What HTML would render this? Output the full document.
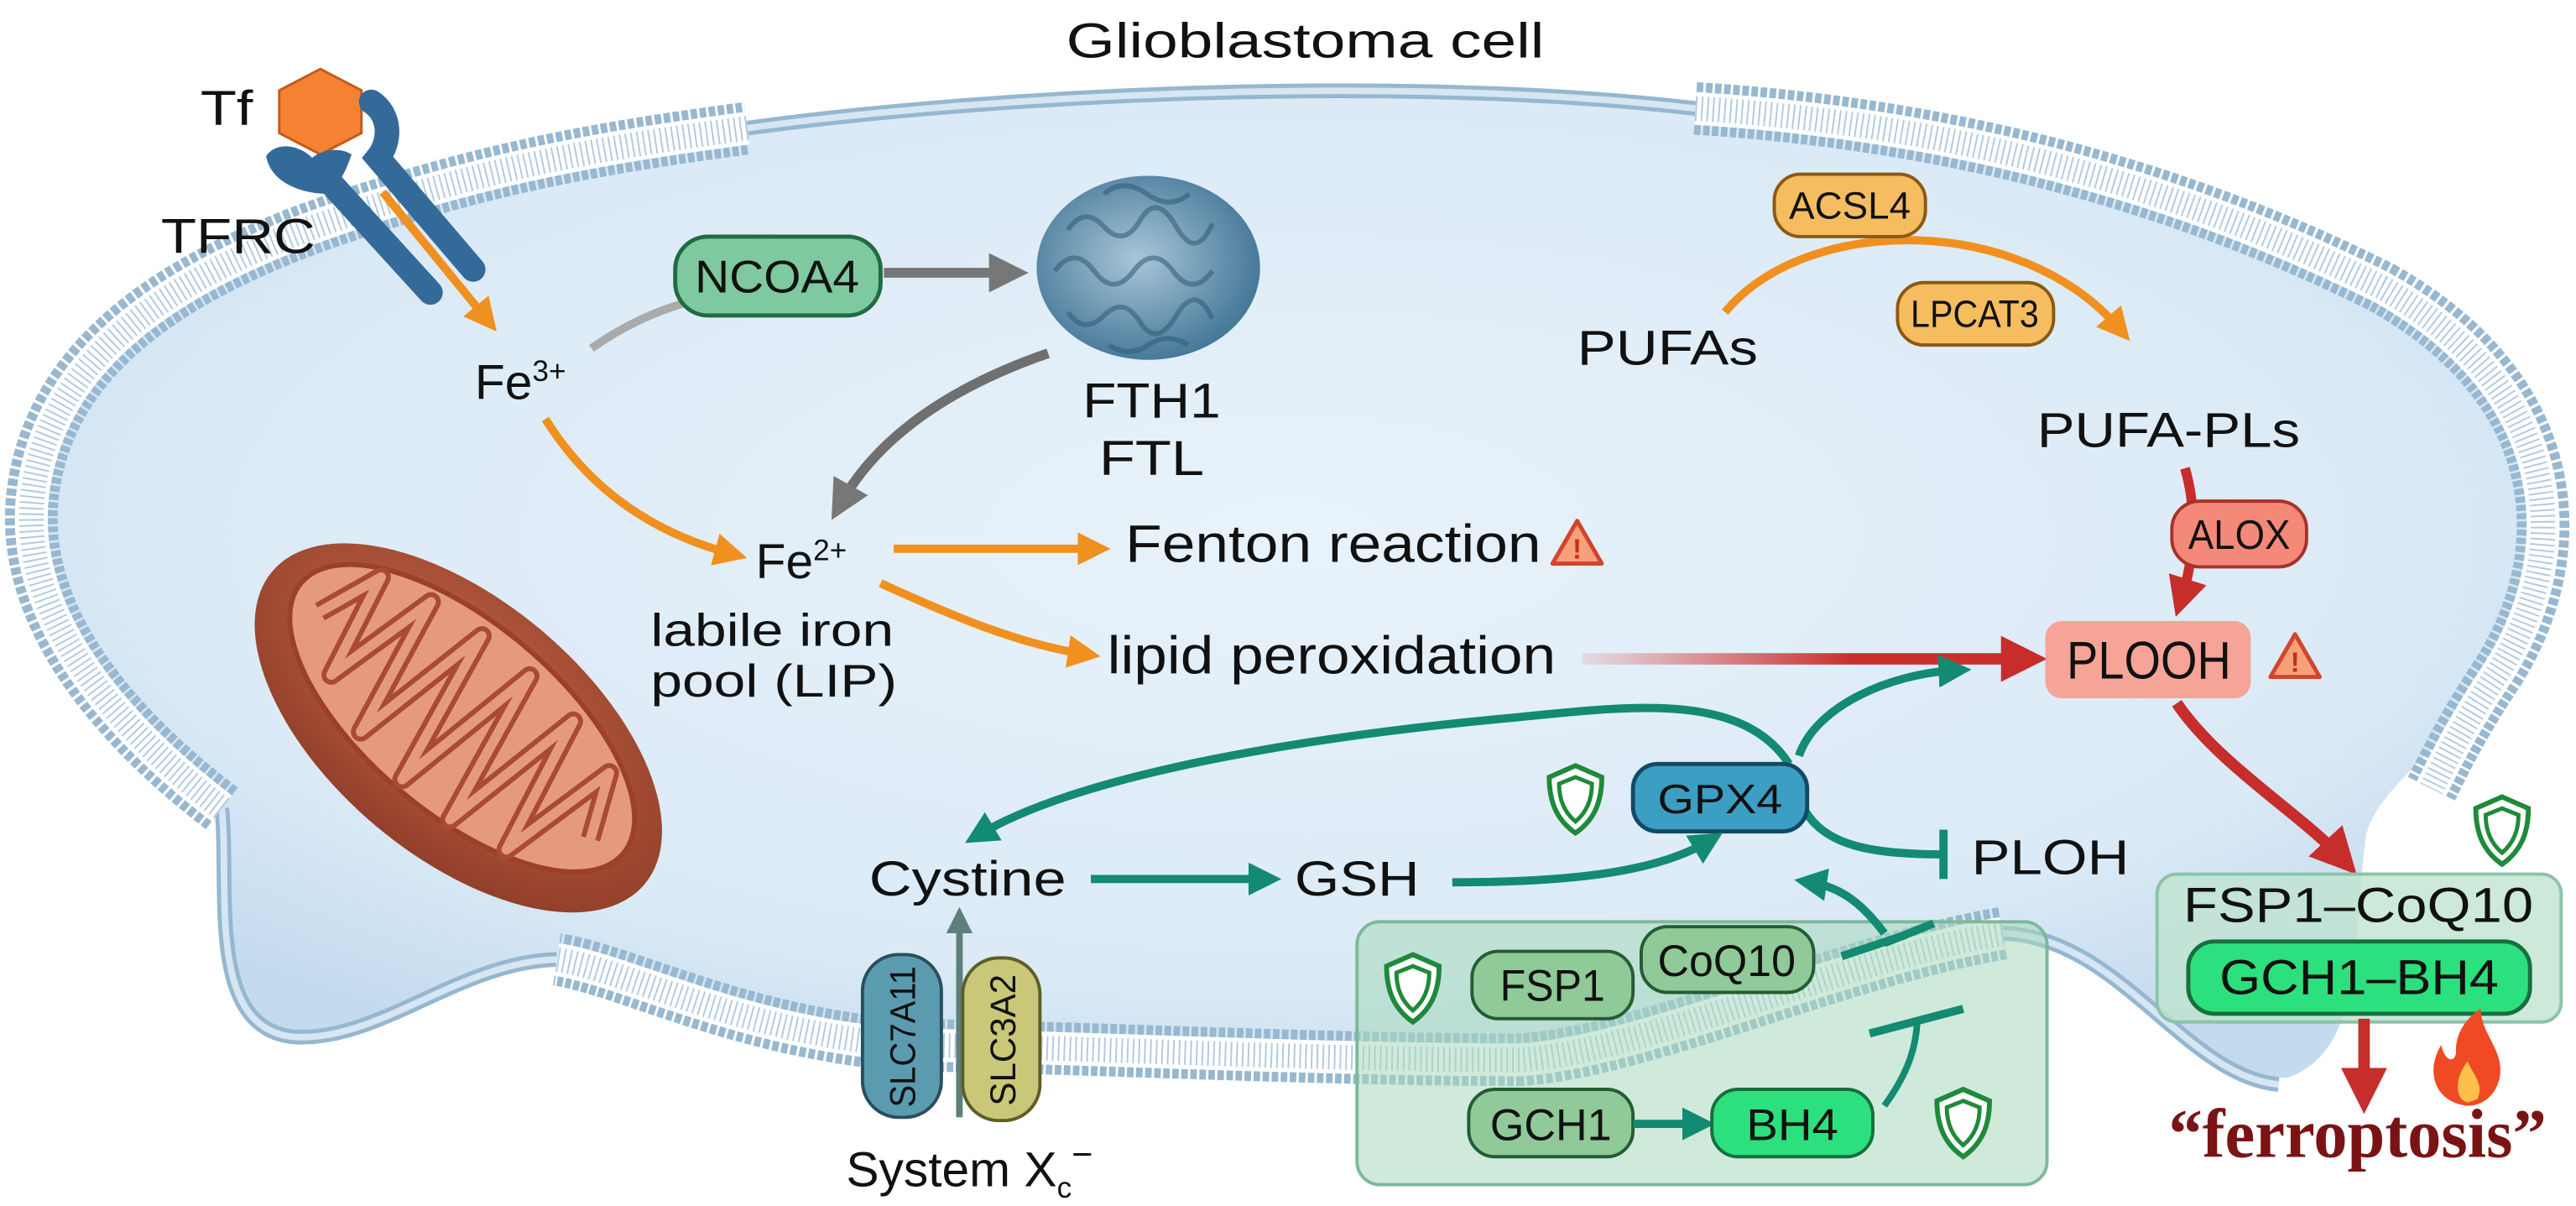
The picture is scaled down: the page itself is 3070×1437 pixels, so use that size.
<!DOCTYPE html>
<html><head><meta charset="utf-8"><style>
html,body{margin:0;padding:0;background:#fff;}
svg{display:block;}
text{font-family:"Liberation Sans",sans-serif;fill:#111;}
</style></head><body>
<svg width="3070" height="1437" viewBox="0 0 1568 734" preserveAspectRatio="none">
<defs>
<radialGradient id="cell" cx="50%" cy="45%" r="60%">
<stop offset="0" stop-color="#e8f2fa"/><stop offset="0.75" stop-color="#dbeaf6"/><stop offset="1" stop-color="#c4dbee"/>
</radialGradient>
<radialGradient id="mito" cx="45%" cy="40%" r="60%">
<stop offset="0" stop-color="#c96a4c"/><stop offset="1" stop-color="#93402a"/>
</radialGradient>
<radialGradient id="fer" cx="45%" cy="45%" r="60%">
<stop offset="0" stop-color="#a9c6d8"/><stop offset="1" stop-color="#3f7394"/>
</radialGradient>
<linearGradient id="redg" gradientUnits="userSpaceOnUse" x1="963" y1="0" x2="1235" y2="0"><stop offset="0" stop-color="#d23a35" stop-opacity="0.1"/><stop offset="0.6" stop-color="#c8302e"/></linearGradient>
<marker id="ao" viewBox="0 0 10 10" refX="5" refY="5" markerWidth="4" markerHeight="4" orient="auto"><path d="M0,0 L10,5 L0,10 z" fill="#f0901e"/></marker>
<marker id="ag" viewBox="0 0 10 10" refX="5" refY="5" markerWidth="4" markerHeight="4" orient="auto"><path d="M0,0 L10,5 L0,10 z" fill="#777"/></marker>
<marker id="ar" viewBox="0 0 10 10" refX="5" refY="5" markerWidth="4" markerHeight="4" orient="auto"><path d="M0,0 L10,5 L0,10 z" fill="#c62d2b"/></marker>
<marker id="at" viewBox="0 0 10 10" refX="5" refY="5" markerWidth="4" markerHeight="4" orient="auto"><path d="M0,0 L10,5 L0,10 z" fill="#138a72"/></marker>
<marker id="as" viewBox="0 0 10 10" refX="5" refY="5" markerWidth="4" markerHeight="4" orient="auto"><path d="M0,0 L10,5 L0,10 z" fill="#5e7f7a"/></marker>
<g id="shield"><path d="M0,-20 L16,-13 C16,4 10,14 0,21 C-10,14 -16,4 -16,-13 Z" fill="#fff" stroke="#1f8a3a" stroke-width="3"/><path d="M0,-13 L10,-9 C10,2 6,9 0,14 C-6,9 -10,2 -10,-9 Z" fill="none" stroke="#1f8a3a" stroke-width="2.5"/></g>
<g id="warn"><path d="M0,-14 L15,12 L-15,12 Z" fill="#f7a07a" stroke="#d2452c" stroke-width="2.5" stroke-linejoin="round"/><text x="0" y="9" text-anchor="middle" font-size="17" font-weight="bold" style="fill:#c1301f">!</text></g>
<path id="bA" d="M135,492 C80,450 10,380 20,300 C30,220 100,170 200,135 C300,100 380,88 455,78"/>
<path id="bB" d="M1032,66 C1180,75 1320,110 1450,175 C1565,240 1565,340 1520,410 C1500,440 1490,460 1480,480"/>
<path id="bC" d="M1219,568 C1120,585 1000,640 926,645 C800,645 650,637 550,636 C450,628 380,590 339,584"/>
<path id="d1" d="M455,78 C600,58 850,45 1032,66"/>
<path id="d2" d="M1387,660 C1330,655 1290,570 1219,568"/>
<path id="d3" d="M339,584 C280,585 230,635 178,631 C125,625 140,540 135,492"/>
</defs>

<!-- cell -->
<path d="M135,492 C80,450 10,380 20,300 C30,220 100,170 200,135 C300,100 380,88 455,78 C600,58 850,45 1032,66 C1180,75 1320,110 1450,175 C1565,240 1565,340 1520,410 C1490,455 1445,480 1440,510 C1432,570 1440,640 1392,656 C1330,655 1290,570 1219,568 C1120,585 1000,640 926,645 C800,645 650,637 550,636 C450,628 380,590 339,584 C280,585 230,635 178,631 C125,625 140,540 135,492 Z" fill="url(#cell)"/>
<g fill="none">
<g stroke="#95b7cf" stroke-width="9"><use href="#d1"/><use href="#d2"/><use href="#d3"/></g>
<g stroke="#d6e6f2" stroke-width="4"><use href="#d1"/><use href="#d2"/><use href="#d3"/></g>
<g stroke="#97b8d0" stroke-width="32" stroke-dasharray="4 1.5"><use href="#bA"/><use href="#bB"/><use href="#bC"/></g>
<g stroke="#fff" stroke-width="20"><use href="#bA"/><use href="#bB"/><use href="#bC"/></g>
<g stroke="#b2cade" stroke-width="15" stroke-dasharray="1 2.5"><use href="#bA"/><use href="#bB"/><use href="#bC"/></g>
</g>

<text x="649" y="35" font-size="30" textLength="291" lengthAdjust="spacingAndGlyphs">Glioblastoma cell</text>

<!-- Tf / TFRC -->
<polygon points="195,42 220,55 220,81 195,94 170,81 170,55" fill="#f58232" stroke="#c25a1a" stroke-width="1.5"/>
<text x="122" y="76" font-size="30" textLength="32" lengthAdjust="spacingAndGlyphs">Tf</text>
<text x="98" y="154" font-size="30" textLength="94" lengthAdjust="spacingAndGlyphs">TFRC</text>
<g fill="none" stroke="#336a9a" stroke-linecap="round">
<path d="M200,110 L262,178" stroke-width="15"/>
<path d="M226,62 C238,70 238,86 230,96 L288,164" stroke-width="15"/>
</g>
<path d="M162,95 C168,86 182,88 190,96 C198,90 208,90 214,94 C210,106 206,112 200,118 C185,118 165,112 162,95 Z" fill="#336a9a"/>
<line x1="233" y1="117" x2="296" y2="194" stroke="#f0901e" stroke-width="5" marker-end="url(#ao)"/>

<text x="289" y="243" font-size="30">Fe<tspan font-size="18" dy="-11">3+</tspan></text>

<!-- NCOA4 -->
<path d="M360,212 C380,198 398,190 415,185" fill="none" stroke="#aaa" stroke-width="5"/>
<rect x="411" y="144" width="125" height="48" rx="20" fill="#7fc9a0" stroke="#1f6b43" stroke-width="2.5"/>
<text x="473" y="178" text-anchor="middle" font-size="28" textLength="100" lengthAdjust="spacingAndGlyphs">NCOA4</text>
<line x1="538" y1="166" x2="614" y2="166" stroke="#777" stroke-width="6" marker-end="url(#ag)"/>

<!-- ferritin -->
<ellipse cx="699" cy="163" rx="68" ry="56" fill="url(#fer)"/>
<g fill="none" stroke="#2f5a76" stroke-width="3" opacity="0.55">
<path d="M650,140 q10,-15 22,-2 t22,-4 t22,4 t22,-2"/><path d="M642,165 q12,-16 24,0 t24,0 t24,0 t24,0"/><path d="M650,190 q10,14 22,2 t22,4 t22,-4 t22,2"/><path d="M672,118 q12,-10 26,0 t26,0"/><path d="M675,210 q12,8 24,0 t24,0"/>
</g>
<text x="659" y="254" font-size="30" textLength="84" lengthAdjust="spacingAndGlyphs">FTH1</text>
<text x="669" y="289" font-size="30" textLength="64" lengthAdjust="spacingAndGlyphs">FTL</text>
<path d="M638,215 C580,235 535,265 512,306" fill="none" stroke="#6f6f6f" stroke-width="6" marker-end="url(#ag)"/>

<path d="M332,255 C360,300 400,325 445,337" fill="none" stroke="#f0901e" stroke-width="5" marker-end="url(#ao)"/>
<text x="460" y="352" font-size="30">Fe<tspan font-size="18" dy="-11">2+</tspan></text>
<text x="396" y="393" font-size="28" textLength="148" lengthAdjust="spacingAndGlyphs">labile iron</text>
<text x="396" y="424" font-size="28" textLength="150" lengthAdjust="spacingAndGlyphs">pool (LIP)</text>
<line x1="544" y1="334" x2="666" y2="334" stroke="#f0901e" stroke-width="5" marker-end="url(#ao)"/>
<text x="685" y="342" font-size="32" textLength="253" lengthAdjust="spacingAndGlyphs">Fenton reaction</text>
<use href="#warn" x="960" y="331"/>
<path d="M536,355 C580,375 620,392 660,398" fill="none" stroke="#f0901e" stroke-width="5" marker-end="url(#ao)"/>
<text x="674" y="410" font-size="32" textLength="273" lengthAdjust="spacingAndGlyphs">lipid peroxidation</text>
<line x1="963" y1="401" x2="1232" y2="401" stroke="url(#redg)" stroke-width="7" marker-end="url(#ar)"/>

<!-- mitochondrion -->
<g transform="translate(279,443) rotate(40)">
<ellipse cx="0" cy="0" rx="148" ry="78" fill="url(#mito)"/>
<ellipse cx="-2" cy="-6" rx="128" ry="58" fill="#e59a7f" stroke="#9c4029" stroke-width="3"/>
<path d="M-110,0 L-95,-40 L-80,25 L-62,-48 L-44,40 L-25,-52 L-6,46 L13,-52 L32,46 L51,-48 L70,38 L88,-38 L105,0" fill="none" stroke="#a94a32" stroke-width="12" stroke-linejoin="round"/>
<path d="M-110,0 L-95,-40 L-80,25 L-62,-48 L-44,40 L-25,-52 L-6,46 L13,-52 L32,46 L51,-48 L70,38 L88,-38 L105,0" fill="none" stroke="#e59a7f" stroke-width="6" stroke-linejoin="round"/>
</g>

<!-- PUFA -->
<text x="960" y="222" font-size="30" textLength="110" lengthAdjust="spacingAndGlyphs">PUFAs</text>
<path d="M1050,190 C1100,130 1230,130 1290,200" fill="none" stroke="#f0901e" stroke-width="5" marker-end="url(#ao)"/>
<rect x="1080" y="106" width="92" height="38" rx="16" fill="#f6bd60" stroke="#8a5a14" stroke-width="2"/>
<text x="1126" y="133" text-anchor="middle" font-size="23" textLength="74" lengthAdjust="spacingAndGlyphs">ACSL4</text>
<rect x="1155" y="172" width="95" height="38" rx="16" fill="#f6bd60" stroke="#8a5a14" stroke-width="2"/>
<text x="1202" y="199" text-anchor="middle" font-size="23" textLength="78" lengthAdjust="spacingAndGlyphs">LPCAT3</text>
<text x="1240" y="272" font-size="30" textLength="160" lengthAdjust="spacingAndGlyphs">PUFA-PLs</text>
<path d="M1330,285 C1338,312 1335,342 1328,364" fill="none" stroke="#c62d2b" stroke-width="6" marker-end="url(#ar)"/>
<rect x="1322" y="305" width="82" height="40" rx="17" fill="#f4897a" stroke="#a83228" stroke-width="2"/>
<text x="1363" y="334" text-anchor="middle" font-size="25" textLength="62" lengthAdjust="spacingAndGlyphs">ALOX</text>
<rect x="1245" y="378" width="125" height="47" rx="10" fill="#f5a497"/>
<text x="1308" y="413" text-anchor="middle" font-size="32" textLength="100" lengthAdjust="spacingAndGlyphs">PLOOH</text>
<use href="#warn" x="1397" y="400"/>
<path d="M1325,428 C1350,465 1400,495 1425,522" fill="none" stroke="#c62d2b" stroke-width="7" marker-end="url(#ar)"/>

<!-- right box -->
<use href="#shield" x="1523" y="505"/>
<rect x="1313" y="532" width="246" height="90" rx="12" fill="#bfe3cf" fill-opacity="0.8" stroke="#8cc3a8" stroke-width="2"/>
<text x="1329" y="561" font-size="30" textLength="213" lengthAdjust="spacingAndGlyphs">FSP1–CoQ10</text>
<rect x="1332" y="573" width="208" height="44" rx="16" fill="#2de07e" stroke="#16703e" stroke-width="2.5"/>
<text x="1351" y="605" font-size="30" textLength="170" lengthAdjust="spacingAndGlyphs">GCH1–BH4</text>
<line x1="1439" y1="620" x2="1439" y2="664" stroke="#c62d2b" stroke-width="7" marker-end="url(#ar)"/>
<path d="M1502,673 C1482,671 1476,652 1486,636 C1488,646 1494,647 1495,641 C1494,628 1503,618 1510,614 C1510,630 1526,640 1521,658 C1518,668 1510,673 1502,673 Z" fill="#f04a25"/>
<path d="M1502,671 C1494,669 1494,656 1502,646 C1506,655 1512,660 1508,669 Z" fill="#ffc04a"/>
<text x="1320" y="704" font-size="42" font-weight="bold" textLength="230" lengthAdjust="spacingAndGlyphs" style="fill:#7a1414;font-family:'Liberation Serif',serif">“ferroptosis”</text>

<!-- GPX4 cycle -->
<path d="M1089,465 C1060,420 990,430 919,437 C800,448 660,470 596,508" fill="none" stroke="#138a72" stroke-width="5" marker-end="url(#at)"/>
<path d="M1095,460 C1105,430 1150,410 1190,408" fill="none" stroke="#138a72" stroke-width="5" marker-end="url(#at)"/>
<path d="M1098,492 C1110,515 1140,520 1183,520" fill="none" stroke="#138a72" stroke-width="5"/>
<line x1="1183" y1="505" x2="1183" y2="535" stroke="#138a72" stroke-width="5"/>
<text x="1200" y="532" font-size="30" textLength="96" lengthAdjust="spacingAndGlyphs">PLOH</text>
<use href="#shield" x="959" y="486"/>
<rect x="994" y="465" width="106" height="41" rx="15" fill="#3d9ec4" stroke="#124a66" stroke-width="2.5"/>
<text x="1047" y="495" text-anchor="middle" font-size="25" textLength="76" lengthAdjust="spacingAndGlyphs">GPX4</text>
<text x="529" y="545" font-size="30" textLength="120" lengthAdjust="spacingAndGlyphs">Cystine</text>
<line x1="664" y1="535" x2="770" y2="535" stroke="#138a72" stroke-width="5" marker-end="url(#at)"/>
<text x="788" y="545" font-size="30" textLength="76" lengthAdjust="spacingAndGlyphs">GSH</text>
<path d="M884,537 C960,537 1010,530 1040,512" fill="none" stroke="#138a72" stroke-width="5" marker-end="url(#at)"/>

<!-- green box -->
<rect x="826" y="561" width="420" height="160" rx="14" fill="#a8d8bc" fill-opacity="0.55" stroke="#7fb89b" stroke-width="2"/>
<use href="#shield" x="860" y="601"/>
<rect x="896" y="579" width="98" height="41" rx="16" fill="#8fca98" stroke="#245c33" stroke-width="2"/>
<text x="945" y="609" text-anchor="middle" font-size="27" textLength="64" lengthAdjust="spacingAndGlyphs">FSP1</text>
<rect x="999" y="564" width="105" height="40" rx="16" fill="#8fca98" stroke="#245c33" stroke-width="2"/>
<text x="1051" y="594" text-anchor="middle" font-size="27" textLength="84" lengthAdjust="spacingAndGlyphs">CoQ10</text>
<line x1="1121" y1="582" x2="1160" y2="569" stroke="#138a72" stroke-width="5"/>
<line x1="1147" y1="574" x2="1177" y2="562" stroke="#138a72" stroke-width="5"/>
<path d="M1147,568 C1135,552 1122,540 1102,537" fill="none" stroke="#138a72" stroke-width="5" marker-end="url(#at)"/>
<rect x="894" y="663" width="100" height="41" rx="16" fill="#8fca98" stroke="#245c33" stroke-width="2"/>
<text x="944" y="694" text-anchor="middle" font-size="27" textLength="74" lengthAdjust="spacingAndGlyphs">GCH1</text>
<line x1="994" y1="684" x2="1034" y2="684" stroke="#138a72" stroke-width="5" marker-end="url(#at)"/>
<rect x="1042" y="663" width="98" height="41" rx="16" fill="#2de07e" stroke="#16703e" stroke-width="2"/>
<text x="1091" y="694" text-anchor="middle" font-size="27" textLength="56" lengthAdjust="spacingAndGlyphs">BH4</text>
<use href="#shield" x="1195" y="683"/>
<path d="M1147,673 C1160,655 1166,640 1167,622" fill="none" stroke="#138a72" stroke-width="4"/>
<line x1="1138" y1="629" x2="1195" y2="614" stroke="#138a72" stroke-width="5"/>

<!-- System Xc -->
<line x1="584" y1="680" x2="584" y2="560" stroke="#5e7f7a" stroke-width="4" marker-end="url(#as)"/>
<rect x="525" y="581" width="48" height="99" rx="22" fill="#5a9bb0" stroke="#2a4f5c" stroke-width="2"/>
<text transform="translate(557,631) rotate(-90)" text-anchor="middle" font-size="22" textLength="86" lengthAdjust="spacingAndGlyphs">SLC7A11</text>
<rect x="586" y="583" width="47" height="99" rx="22" fill="#c8c878" stroke="#5f5e2a" stroke-width="2"/>
<text transform="translate(618,633) rotate(-90)" text-anchor="middle" font-size="22" textLength="80" lengthAdjust="spacingAndGlyphs">SLC3A2</text>
<text x="515" y="722" font-size="30">System X<tspan font-size="18" dy="7">c</tspan><tspan font-size="22" dy="-19">−</tspan></text>
</svg>
</body></html>
